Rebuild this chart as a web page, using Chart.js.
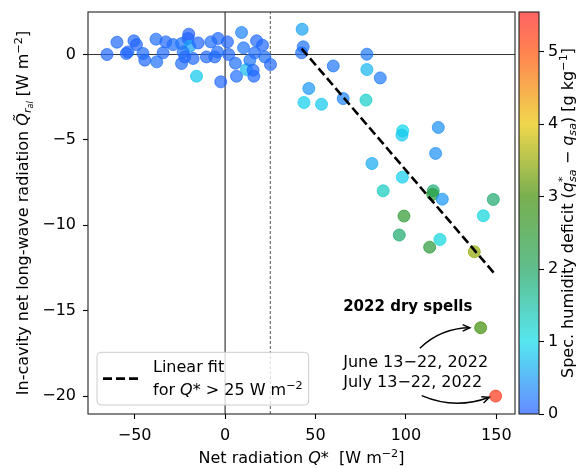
<!DOCTYPE html>
<html><head><meta charset="utf-8">
<script src="https://cdn.jsdelivr.net/npm/chart.js@4.4.1/dist/chart.umd.min.js"></script>
<style>html,body{margin:0;padding:0;background:#fff;}#wrap{width:580px;height:468px;}</style>
</head><body><div id="wrap"><canvas id="c" width="580" height="468"></canvas></div>
<script>
// ---------- data ----------
const netRadiation = [-65.3,-59.8,-54.6,-53.7,-50.4,-49.0,-45.4,-44.4,-38.2,-37.8,-34.3,-32.8,-28.8,-24.1,-20.1,-20.5,-19.5,-23.2,-24.1,-22.3,-17.7,-14.9,-15.8,-10.3,-7.9,-5.7,-4.2,-3.9,1.3,2.0,-2.4,5.7,9.1,10.2,6.3,11.8,13.7,15.5,15.9,16.4,17.4,20.7,22.0,25.1,
  42.6,43.2,42.3,59.8,78.4,78.4,85.8,46.3,43.6,53.3,65.3,77.9,98.2,97.8,117.9,116.4,81.2,98.0,87.4,115.1,114.8,120.1,148.3,98.9,142.8,96.3,118.8,113.1,137.8];
const longWave = [0.00,0.72,0.06,0.15,0.80,0.58,0.06,-0.33,0.90,-0.43,0.10,0.74,0.58,0.64,1.19,0.94,0.49,0.15,-0.53,-0.14,-0.23,0.68,-1.27,-0.14,0.74,-0.14,0.15,0.94,0.74,0.00,-1.60,-0.51,1.29,0.39,-1.27,-0.88,-0.33,-0.92,-1.27,0.10,0.80,0.54,-0.14,-0.59,
  1.48,0.45,0.10,-0.67,0.02,-0.88,-1.37,-1.99,-2.81,-2.91,-2.58,-2.67,-4.47,-4.72,-4.27,-5.79,-6.38,-7.18,-7.98,-7.98,-8.19,-8.47,-8.49,-9.46,-9.44,-10.57,-10.83,-11.28,-11.55];
const humidityDeficit = [0.10,0.12,0.08,0.10,0.10,0.08,0.12,0.10,0.15,0.18,0.10,0.10,0.15,0.20,0.05,0.05,0.55,0.20,0.15,0.10,0.10,0.08,0.85,0.10,0.15,0.10,0.15,0.10,0.08,0.10,0.10,0.15,0.30,0.20,0.15,0.75,0.20,0.10,0.10,0.15,0.10,0.10,0.15,0.10,
  0.55,0.20,0.15,0.20,0.25,0.70,0.25,0.45,0.90,0.85,0.30,1.25,0.95,0.85,0.40,0.40,0.60,0.90,1.30,1.80,2.40,0.45,1.90,2.50,1.10,1.90,1.10,2.40,3.50];
const drySpellQ = [141.3, 149.6];
const drySpellLW = [-16.0, -20.0];
const drySpellDeficit = [3.0, 5.3];
const drySpellLabels = ['June 13\u221222, 2022', 'July 13\u221222, 2022'];
const drySpellTitle = '2022 dry spells';
const fitQ = [42.3, 149.2];
const fitLW = [0.35, -12.86];
const thresholdQ = 25;
const xTicks = [-50, 0, 50, 100, 150];
const yTicks = [0, -5, -10, -15, -20];
const cbTicks = [0, 1, 2, 3, 4, 5];
const xRange = [-75.8, 160.3];
const yRange = [-21.05, 2.49];
const cbRange = [0, 5.55];
// annotation anchors (data coordinates)
const annTextQ = 65.3;
const annTitleLW = -14.73;
const annLabelLW = [-17.95, -19.16];
const arrowFrom = [[107.7, -17.2], [108.7, -19.98]];
const arrowTo = [[135.4, -16.0], [146.1, -20.07]];
const arrowRad = [-0.2, 0.2];

// ---------- style ----------
const FONT = '"DejaVu Sans", "Liberation Sans", sans-serif';
const FS = 16;
const ALPHA = 0.7;
const cmapStops = [[0,[34,91,255]],[1,[12,219,234]],[2,[26,162,91]],[3,[62,141,5]],[4,[234,198,0]],[5,[255,76,5]],[5.55,[255,34,34]]];
function cmapRGB(v){
  if (v <= cmapStops[0][0]) return cmapStops[0][1];
  for (let i=1;i<cmapStops.length;i++){
    if (v <= cmapStops[i][0]){
      const [a0,c0]=cmapStops[i-1],[a1,c1]=cmapStops[i];
      const t=(v-a0)/(a1-a0);
      return c0.map((c,k)=>Math.round(c+(c1[k]-c)*t));
    }
  }
  return cmapStops[cmapStops.length-1][1];
}
const rgba=(c,a)=>`rgba(${c[0]},${c[1]},${c[2]},${a})`;
const blended=(c,a)=>`rgb(${c.map(x=>Math.round(255-a*(255-x))).join(',')})`;
const fmt = v => (v<0 ? '\u2212'+Math.abs(v) : String(v));

function fontStr(r,size){return (r.it?'italic ':'')+(r.b?'bold ':'')+(size*(r.s||1)).toFixed(2)+'px '+FONT;}
function measureRich(ctx,runs,size){
  let cx=0,hold=null;
  for(const r of runs){ctx.font=fontStr(r,size);const w=ctx.measureText(r.t).width;
    if(r.hold){hold=w;continue;}
    if(hold!==null){cx+=Math.max(hold,w);hold=null;}else cx+=w;}
  return cx;
}
function drawRich(ctx,runs,x,y,size,rot,align){
  ctx.save();ctx.translate(x,y);if(rot)ctx.rotate(rot);
  const W=measureRich(ctx,runs,size);
  let cx=align==='center'?-W/2:(align==='right'?-W:0);
  ctx.textAlign='left';ctx.textBaseline='alphabetic';
  let hold=null;
  for(const r of runs){ctx.font=fontStr(r,size);const w=ctx.measureText(r.t).width;
    ctx.fillText(r.t,cx,-(r.dy||0)*size);
    if(r.hold){hold=w;continue;}
    if(hold!==null){cx+=Math.max(hold,w);hold=null;}else cx+=w;}
  ctx.restore();return W;
}
function arrow(ctx,x1,y1,x2,y2,rad){
  const mx=(x1+x2)/2,my=(y1+y2)/2,dx=x2-x1,dyUp=-(y2-y1);
  const cx=mx+rad*dyUp, cy=my+rad*dx;
  ctx.beginPath();ctx.moveTo(x1,y1);ctx.quadraticCurveTo(cx,cy,x2,y2);ctx.stroke();
  const ang=Math.atan2(y2-cy,x2-cx),L=8,A=0.42;
  ctx.beginPath();
  ctx.moveTo(x2-L*Math.cos(ang-A),y2-L*Math.sin(ang-A));ctx.lineTo(x2,y2);
  ctx.lineTo(x2-L*Math.cos(ang+A),y2-L*Math.sin(ang+A));ctx.stroke();
}
function roundRect(ctx,x,y,w,h,r){
  ctx.beginPath();ctx.moveTo(x+r,y);ctx.arcTo(x+w,y,x+w,y+h,r);ctx.arcTo(x+w,y+h,x,y+h,r);
  ctx.arcTo(x,y+h,x,y,r);ctx.arcTo(x,y,x+w,y,r);ctx.closePath();
}

const decorPlugin = {
  id:'decor',
  afterDatasetsDraw(chart){
    const ctx=chart.ctx, a=chart.chartArea, xs=chart.scales.x, ys=chart.scales.y, cb=chart.scales.cb;
    ctx.save();
    // frame
    ctx.strokeStyle='#222';ctx.lineWidth=1.1;
    ctx.strokeRect(a.left,a.top,a.right-a.left,a.bottom-a.top);
    // colorbar
    const bx0=a.right+4, bx1=cb.left;
    const yb=cb.getPixelForValue(cbRange[0]), yt=cb.getPixelForValue(cbRange[1]);
    const g=ctx.createLinearGradient(0,yb,0,yt);
    for(const [v,c] of cmapStops){g.addColorStop(Math.min(1,(v-cbRange[0])/(cbRange[1]-cbRange[0])),blended(c,ALPHA));}
    ctx.fillStyle=g;ctx.fillRect(bx0,yt,bx1-bx0,yb-yt);
    ctx.strokeStyle='#222';ctx.lineWidth=1.1;ctx.strokeRect(bx0,yt,bx1-bx0,yb-yt);
    // legend
    const lx=a.left+9, lb=a.bottom-9, lh=52.7;
    const line2=[{t:'for '},{t:'Q',it:true},{t:'*'},{t:' > 25 W m'},{t:'\u22122',s:0.7,dy:0.4}];
    ctx.font=fontStr({},FS);
    const tw=Math.max(ctx.measureText('Linear fit').width, measureRich(ctx,line2,FS));
    const tx=lx+56, lw=tx+tw+6-lx, ly=lb-lh;
    roundRect(ctx,lx,ly,lw,lh,4);
    ctx.fillStyle='rgba(255,255,255,0.8)';ctx.fill();
    ctx.strokeStyle='#cccccc';ctx.lineWidth=1;ctx.stroke();
    ctx.strokeStyle='#000';ctx.lineWidth=2.6;ctx.setLineDash([9,4]);
    ctx.beginPath();ctx.moveTo(lx+6,ly+lh/2);ctx.lineTo(lx+42,ly+lh/2);ctx.stroke();ctx.setLineDash([]);
    ctx.fillStyle='#000';
    drawRich(ctx,[{t:'Linear fit'}],tx,ly+13.7+0.36*FS,FS,0,'left');
    drawRich(ctx,line2,tx,ly+37+0.36*FS,FS,0,'left');
    // annotations
    const ax=xs.getPixelForValue(annTextQ);
    drawRich(ctx,[{t:drySpellTitle,b:true}],ax,ys.getPixelForValue(annTitleLW)+0.36*15,15,0,'left');
    drySpellLabels.forEach((t,i)=>drawRich(ctx,[{t}],ax,ys.getPixelForValue(annLabelLW[i])+0.36*FS,FS,0,'left'));
    ctx.strokeStyle='#000';ctx.lineWidth=1.4;
    arrowFrom.forEach((f,i)=>arrow(ctx,xs.getPixelForValue(f[0]),ys.getPixelForValue(f[1]),
      xs.getPixelForValue(arrowTo[i][0]),ys.getPixelForValue(arrowTo[i][1]),arrowRad[i]));
    // axis titles
    const cyMid=(a.top+a.bottom)/2;
    drawRich(ctx,[{t:'Net radiation '},{t:'Q',it:true},{t:'*'},{t:'  [W m'},{t:'\u22122',s:0.7,dy:0.4},{t:']'}],
      (a.left+a.right)/2,463,FS,0,'center');
    drawRich(ctx,[{t:'In-cavity net long-wave radiation '},{t:'Q\u0303',it:true},{t:'r',it:true,s:0.7,dy:-0.18},
      {t:'al',it:true,s:0.5,dy:-0.3},{t:' [W m'},{t:'\u22122',s:0.7,dy:0.4},{t:']'}],28,cyMid,FS,-Math.PI/2,'center');
    drawRich(ctx,[{t:'Spec. humidity deficit ('},{t:'q',it:true},{t:'*',s:0.7,dy:0.42,hold:true},{t:'sa',it:true,s:0.7,dy:-0.2},
      {t:' \u2212 '},{t:'q',it:true},{t:'sa',it:true,s:0.7,dy:-0.2},{t:') [g kg'},{t:'\u22121',s:0.7,dy:0.4},{t:']'}],
      573,cyMid,FS,-Math.PI/2,'center');
    ctx.restore();
  }
};

const tickFont={family:FONT,size:FS};
const zeroPad = s=>{s.paddingTop=0;s.paddingBottom=0;s.paddingLeft=0;s.paddingRight=0;};
new Chart(document.getElementById('c'),{
  type:'scatter',
  data:{datasets:[
    {type:'line',label:'Linear fit',data:fitQ.map((q,i)=>({x:q,y:fitLW[i]})),borderColor:'#000',borderWidth:2.6,borderDash:[9,4],pointRadius:0,fill:false,tension:0,order:0},
    {label:'dry spells',data:drySpellQ.map((q,i)=>({x:q,y:drySpellLW[i]})),
      backgroundColor:drySpellDeficit.map(v=>rgba(cmapRGB(v),ALPHA)),borderColor:drySpellDeficit.map(v=>rgba(cmapRGB(v),ALPHA)),pointRadius:6,borderWidth:1,order:1},
    {label:'observations',data:netRadiation.map((q,i)=>({x:q,y:longWave[i]})),
      backgroundColor:humidityDeficit.map(v=>rgba(cmapRGB(v),ALPHA)),borderColor:humidityDeficit.map(v=>rgba(cmapRGB(v),ALPHA)),pointRadius:6,borderWidth:1,order:2},
    {type:'line',label:'zero LW',data:[{x:xRange[0],y:0},{x:xRange[1],y:0}],borderColor:'#333',borderWidth:1,pointRadius:0,order:5},
    {type:'line',label:'zero Q',data:[{x:0,y:yRange[0]},{x:0,y:yRange[1]}],borderColor:'#111',borderWidth:1,pointRadius:0,order:5},
    {type:'line',label:'threshold',data:[{x:thresholdQ,y:yRange[0]},{x:thresholdQ,y:yRange[1]}],borderColor:'#444',borderWidth:0.9,borderDash:[3,2],pointRadius:0,order:5}
  ]},
  options:{
    responsive:false,animation:false,devicePixelRatio:1,
    layout:{padding:{top:12,left:0,right:0,bottom:0}},
    plugins:{legend:{display:false},tooltip:{enabled:false}},
    scales:{
      x:{type:'linear',position:'bottom',min:xRange[0],max:xRange[1],
        afterBuildTicks:s=>{s.ticks=xTicks.map(v=>({value:v}));},
        afterFit:s=>{s.height=54;zeroPad(s);},
        grid:{drawOnChartArea:false,tickLength:5,tickColor:'#000',tickWidth:1.1},
        border:{display:false},
        ticks:{font:tickFont,color:'#000',padding:7,maxRotation:0,callback:fmt}},
      y:{type:'linear',position:'left',min:yRange[0],max:yRange[1],
        afterBuildTicks:s=>{s.ticks=yTicks.map(v=>({value:v}));},
        afterFit:s=>{s.width=88;zeroPad(s);},
        grid:{drawOnChartArea:false,tickLength:5,tickColor:'#000',tickWidth:1.1},
        border:{display:false},
        ticks:{font:tickFont,color:'#000',padding:7,callback:fmt}},
      spacer:{type:'linear',position:'right',weight:0,min:0,max:1,display:true,
        ticks:{display:false},grid:{display:false},border:{display:false},
        afterFit:s=>{s.width=24;zeroPad(s);}},
      cb:{type:'linear',position:'right',weight:1,min:cbRange[0],max:cbRange[1],
        afterBuildTicks:s=>{s.ticks=cbTicks.map(v=>({value:v}));},
        afterFit:s=>{s.width=41;zeroPad(s);},
        grid:{drawOnChartArea:false,tickLength:5,tickColor:'#000',tickWidth:1.1},
        border:{display:false},
        ticks:{font:tickFont,color:'#000',padding:4,callback:fmt}}
    }
  },
  plugins:[decorPlugin]
});
</script></body></html>
